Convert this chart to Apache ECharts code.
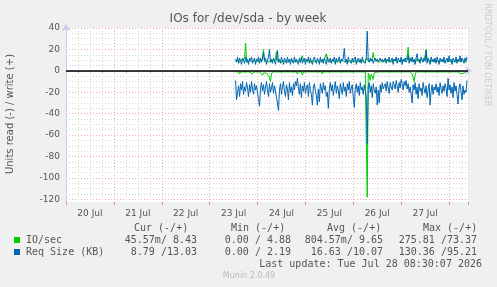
<!DOCTYPE html>
<html>
<head>
<meta charset="utf-8">
<script src="https://cdn.jsdelivr.net/npm/echarts@6/dist/echarts.min.js"></script>
<style>
  html, body { margin: 0; padding: 0; background: #f0f0f0; }
  #chart { width: 497px; height: 287px; }
</style>
</head>
<body>
<div id="chart"></div>
<script>
// hours since 20 Jul 00:00; one sample every 30 min from 23 Jul 13:00
var startHour = 85;
var stepHour = 0.5;
var dayLabels = ['20 Jul', '21 Jul', '22 Jul', '23 Jul', '24 Jul', '25 Jul', '26 Jul', '27 Jul'];
var yTicks = [40, 20, 0, -20, -40, -60, -80, -100, -120];

// IO/sec : write (+) and read (-)
var ioWrite = [
  9, 8, 9, 10, 8, 9, 11, 9, 8, 12,
  26, 10, 8, 9, 8, 10, 9, 8, 9, 10,
  8, 9, 10, 8, 9, 11, 9, 12, 20, 10,
  8, 9, 10, 8, 9, 10, 8, 9, 11, 9,
  12, 18, 10, 8, 9, 10, 8, 9, 10, 8,
  9, 10, 8, 9, 11, 8, 9, 10, 8, 9,
  10, 8, 9, 10, 9, 8, 11, 14, 9, 8,
  9, 10, 8, 9, 10, 8, 9, 10, 8, 9,
  10, 8, 9, 10, 8, 9, 10, 8, 9, 11,
  12, 16, 10, 8, 9, 10, 8, 9, 10, 8,
  9, 10, 8, 9, 10, 8, 9, 10, 9, 11,
  8, 9, 10, 8, 9, 10, 8, 9, 10, 8,
  9, 10, 8, 9, 10, 8, 9, 10, 8, 9,
  10, 9, 12, 9, 8, 9, 10, 12, 17, 11,
  9, 8, 9, 10, 8, 9, 10, 8, 9, 10,
  8, 9, 10, 9, 8, 10, 9, 8, 9, 11,
  12, 9, 8, 10, 9, 8, 10, 9, 8, 10,
  9, 10, 13, 22, 11, 9, 8, 10, 9, 8,
  10, 9, 11, 9, 8, 10, 9, 8, 10, 12,
  14, 20, 11, 9, 8, 10, 9, 8, 10, 9,
  8, 10, 9, 8, 10, 9, 8, 10, 9, 8,
  10, 9, 8, 10, 9, 8, 10, 9, 8, 10,
  9, 8, 10, 9, 8, 10, 9, 11, 12, 9,
  8, 9, 8
];
var ioRead = [
  -1, -2, -1, -1, -3, -1, -2, -1, -1, -2,
  -1, -1, -2, -1, -1, -2, -1, -3, -1, -1,
  -2, -1, -1, -2, -1, -1, -2, -4, -2, -1,
  -1, -2, -1, -3, -6, -10, -3, -1, -2, -1,
  -1, -2, -1, -1, -2, -1, -1, -2, -1, -1,
  -2, -1, -1, -2, -1, -1, -2, -1, -1, -2,
  -1, -1, -3, -1, -2, -1, -1, -4, -1, -2,
  -1, -1, -2, -1, -1, -2, -1, -1, -2, -1,
  -1, -2, -1, -1, -2, -1, -1, -3, -1, -2,
  -1, -1, -2, -1, -1, -2, -1, -1, -2, -1,
  -1, -2, -1, -1, -2, -1, -1, -2, -1, -1,
  -2, -1, -1, -2, -1, -1, -2, -1, -1, -2,
  -1, -1, -2, -1, -1, -2, -1, -1, -2, -1,
  -1, -2, -118, -2, -4, -9, -3, -5, -8, -2,
  -1, -2, -1, -1, -2, -1, -1, -2, -1, -1,
  -2, -1, -1, -2, -1, -1, -2, -1, -1, -2,
  -1, -1, -2, -1, -1, -2, -1, -1, -2, -1,
  -1, -2, -1, -1, -2, -1, -1, -3, -6, -10,
  -4, -1, -2, -1, -1, -2, -1, -1, -2, -1,
  -1, -2, -1, -1, -2, -1, -1, -2, -1, -1,
  -2, -1, -1, -2, -1, -1, -2, -1, -1, -2,
  -1, -1, -2, -1, -1, -2, -1, -1, -2, -1,
  -1, -2, -1, -1, -2, -1, -3, -2, -4, -2,
  -1, -1, 0
];
// Req Size (KB) : write (+) and read (-)
var reqWrite = [
  11, 8, 13, 7, 12, 9, 6, 12, 10, 7,
  13, 8, 11, 6, 12, 9, 13, 7, 10, 12,
  6, 11, 9, 13, 7, 12, 8, 11, 17, 9,
  12, 6, 10, 13, 20, 8, 11, 7, 12, 9,
  6, 12, 19, 8, 11, 7, 13, 9, 6, 12,
  10, 7, 13, 8, 11, 6, 12, 9, 7, 13,
  8, 11, 10, 6, 12, 8, 13, 7, 10, 12,
  6, 11, 9, 13, 7, 12, 8, 6, 11, 13,
  9, 7, 12, 10, 6, 13, 8, 11, 7, 12,
  9, 6, 13, 10, 8, 12, 7, 11, 9, 13,
  6, 12, 8, 10, 13, 7, 11, 9, 12, 21,
  8, 11, 6, 13, 9, 10, 7, 12, 8, 11,
  13, 6, 10, 12, 8, 11, 7, 13, 9, 10,
  7, 12, 37, 10, 8, 12, 9, 11, 7, 10,
  12, 9, 11, 8, 10, 12, 9, 11, 8, 10,
  12, 7, 11, 9, 13, 8, 10, 12, 6, 11,
  9, 13, 7, 12, 10, 8, 13, 6, 11, 9,
  12, 8, 10, 15, 7, 12, 9, 13, 8, 11,
  6, 12, 16, 9, 11, 7, 13, 10, 8, 12,
  9, 19, 7, 12, 10, 6, 13, 9, 11, 8,
  12, 7, 13, 10, 6, 12, 9, 11, 8, 13,
  7, 10, 12, 8, 14, 9, 11, 6, 12, 10,
  8, 13, 7, 11, 9, 14, 8, 12, 10, 7,
  12, 9, 13
];
var reqRead = [
  -9, -27, -20, -14, -24, -12, -18, -10, -22, -15,
  -19, -11, -16, -24, -13, -20, -10, -17, -22, -12,
  -18, -14, -21, -26, -33, -16, -11, -19, -13, -22,
  -15, -10, -18, -24, -12, -20, -16, -11, -21, -14,
  -19, -25, -30, -37, -18, -12, -22, -15, -10, -19,
  -24, -13, -17, -27, -11, -20, -15, -23, -12, -18,
  -10, -14, -7, -16, -22, -12, -25, -14, -19, -11,
  -21, -16, -13, -24, -11, -18, -22, -32, -15, -12,
  -19, -23, -32, -17, -29, -12, -16, -21, -11, -18,
  -14, -24, -20, -35, -17, -11, -19, -13, -23, -16,
  -10, -21, -14, -18, -26, -12, -17, -22, -11, -19,
  -15, -24, -12, -18, -10, -21, -16, -13, -25, -34,
  -17, -12, -20, -14, -23, -11, -18, -15, -22, -13,
  -19, -24, -68, -15, -11, -20, -14, -25, -12, -18,
  -21, -15, -32, -18, -30, -13, -20, -11, -17, -14,
  -12, -19, -10, -16, -21, -11, -15, -18, -10, -13,
  -17, -9, -14, -20, -11, -16, -8, -12, -18, -10,
  -14, -9, -17, -12, -20, -15, -22, -30, -13, -18,
  -11, -22, -15, -26, -12, -19, -16, -23, -11, -17,
  -21, -14, -25, -18, -12, -32, -19, -13, -22, -15,
  -18, -12, -20, -15, -23, -11, -17, -21, -14, -19,
  -12, -16, -24, -7, -18, -13, -21, -15, -25, -11,
  -19, -14, -22, -31, -16, -12, -20, -27, -14, -22,
  -18, -20, -9
];

var legendHeader = ['Cur (-/+)', 'Min (-/+)', 'Avg (-/+)', 'Max (-/+)'];
var ioStats = ['45.57m/ 8.43', '0.00 / 4.88', '804.57m/ 9.65', '275.81 /73.37'];
var reqStats = ['8.79 /13.03', '0.00 / 2.19', '16.63 /10.07', '130.36 /95.21'];

var GREEN = '#00cc00', BLUE = '#0066b3';
var MAJOR = '#f0a8a8', MINOR = '#d6d6d6';

function pairs(arr) {
  return arr.map(function (v, i) { return [startHour + i * stepHour, v]; });
}

var mono = '10px "DejaVu Sans Mono", monospace';
var sans = '"DejaVu Sans", sans-serif';
var headerX = [134, 231, 327, 423];
var colRight = [197, 291, 383, 477];

var graphic = [
  { type: 'text', x: 248, y: 19, style: { text: 'IOs for /dev/sda - by week', font: '12px ' + sans, fill: '#555', align: 'center', verticalAlign: 'middle' } },
  { type: 'text', x: 10, y: 114, rotation: Math.PI / 2, style: { text: 'Units read (-) / write (+)', font: '10px ' + sans, fill: '#555', align: 'center', verticalAlign: 'middle' } },
  { type: 'text', x: 487, y: 55, rotation: -Math.PI / 2, style: { text: 'RRDTOOL / TOBI OETIKER', font: '8px ' + sans, fill: '#ccc', align: 'center', verticalAlign: 'middle' } },
  { type: 'rect', shape: { x: 14, y: 237, width: 6, height: 6 }, style: { fill: GREEN } },
  { type: 'rect', shape: { x: 14, y: 249, width: 6, height: 6 }, style: { fill: BLUE } },
  { type: 'text', x: 26, y: 240, style: { text: 'IO/sec', font: mono, fill: '#555', verticalAlign: 'middle' } },
  { type: 'text', x: 26, y: 252, style: { text: 'Req Size (KB)', font: mono, fill: '#555', verticalAlign: 'middle' } },
  { type: 'text', x: 482, y: 264, style: { text: 'Last update: Tue Jul 28 08:30:07 2026', font: mono, fill: '#555', align: 'right', verticalAlign: 'middle' } },
  { type: 'text', x: 249, y: 276, style: { text: 'Munin 2.0.49', font: '8px ' + sans, fill: '#bbb', align: 'center', verticalAlign: 'middle' } }
];
legendHeader.forEach(function (t, i) {
  graphic.push({ type: 'text', x: headerX[i], y: 228, style: { text: t, font: mono, fill: '#555', verticalAlign: 'middle' } });
});
ioStats.forEach(function (t, i) {
  graphic.push({ type: 'text', x: colRight[i], y: 240, style: { text: t, font: mono, fill: '#555', align: 'right', verticalAlign: 'middle' } });
});
reqStats.forEach(function (t, i) {
  graphic.push({ type: 'text', x: colRight[i], y: 252, style: { text: t, font: mono, fill: '#555', align: 'right', verticalAlign: 'middle' } });
});

function lineSeries(name, data, color, extra) {
  var s = {
    name: name, type: 'line', data: pairs(data), showSymbol: false, symbol: 'none',
    lineStyle: { color: color, width: 1 }, itemStyle: { color: color }, animation: false, silent: true
  };
  for (var k in extra) s[k] = extra[k];
  return s;
}

var option = {
  backgroundColor: '#f0f0f0',
  animation: false,
  grid: { left: 66, right: 29, top: 28, bottom: 85, backgroundColor: '#fff', show: true, borderWidth: 0 },
  xAxis: [
    {
      type: 'value', min: 0, max: 201.5, interval: 6,
      axisLine: { show: true, lineStyle: { color: '#c9cdf0', width: 1 }, symbol: ['none', 'arrow'], symbolSize: [7, 7], symbolOffset: [0, 4] },
      axisTick: { show: true, length: 2, lineStyle: { color: '#ccc' } },
      axisLabel: { show: false },
      splitLine: { show: true, lineStyle: { color: [MAJOR, MINOR, MINOR, MINOR], type: [1, 2], width: 1 } }
    },
    {
      type: 'value', min: 0, max: 201.5, interval: 24, position: 'bottom',
      axisLine: { show: false },
      axisTick: { show: true, length: 3, lineStyle: { color: '#e88' } },
      axisLabel: { show: false },
      splitLine: { show: false }
    },
    {
      type: 'value', min: 0, max: 201.5, interval: 12, position: 'bottom',
      axisLine: { show: false }, axisTick: { show: false }, splitLine: { show: false },
      axisLabel: {
        show: true, margin: 7, color: '#555', fontSize: 9, fontFamily: 'DejaVu Sans',
        showMinLabel: false, showMaxLabel: false,
        formatter: function (v) { return v % 24 === 12 ? dayLabels[(v - 12) / 24] : ''; }
      }
    }
  ],
  yAxis: {
    type: 'value', min: -122.5, max: 40, interval: 2.5,
    axisLine: { show: true, lineStyle: { color: '#c9cdf0', width: 1 }, symbol: ['none', 'arrow'], symbolSize: [7, 7], symbolOffset: [0, 4] },
    axisTick: { show: false },
    axisLabel: {
      show: true, margin: 6, color: '#555', fontSize: 9, fontFamily: 'DejaVu Sans',
      formatter: function (v) { return yTicks.indexOf(v) >= 0 ? String(v) : ''; }
    },
    splitLine: {
      show: true,
      lineStyle: { color: ['transparent', MAJOR, 'transparent', MINOR, 'transparent', MINOR, 'transparent', MINOR], type: [1, 2], width: 1 }
    }
  },
  graphic: graphic,
  series: [
    lineSeries('IO/sec read', ioRead, GREEN, {
      markLine: {
        silent: true, symbol: ['none', 'none'], label: { show: false },
        lineStyle: { color: '#000', type: 'solid', width: 1.5 },
        data: [{ yAxis: 0 }], animation: false
      }
    }),
    lineSeries('IO/sec write', ioWrite, GREEN, {}),
    lineSeries('Req Size read', reqRead, BLUE, {}),
    lineSeries('Req Size write', reqWrite, BLUE, {})
  ]
};

var chart = echarts.init(document.getElementById('chart'), null, { renderer: 'canvas' });
chart.setOption(option);
</script>
</body>
</html>
